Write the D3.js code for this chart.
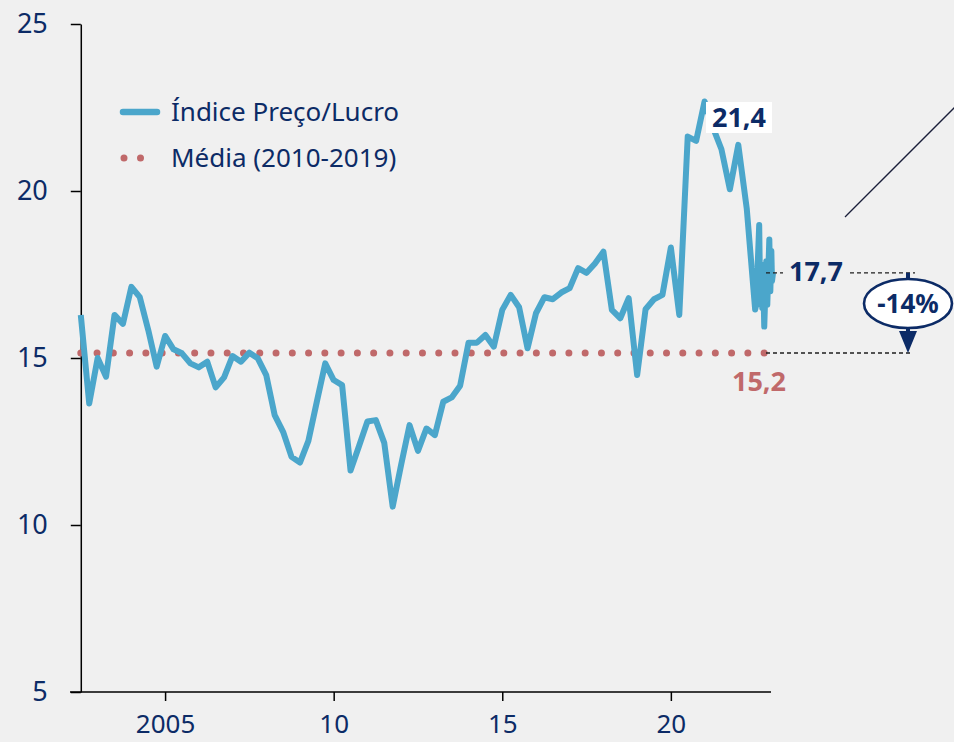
<!DOCTYPE html>
<html>
<head>
<meta charset="utf-8">
<script src="https://cdn.jsdelivr.net/npm/d3@7"></script>
<style>
  body { margin: 0; background: #f0f0f0; }
  svg { display: block; font-family: 'Noto Sans', sans-serif; }
  .axis path, .axis line { stroke: #000; stroke-width: 1.5; }
  .axis text { fill: #0c2b66; font-size: 27px; font-family: 'Noto Sans', sans-serif; }
  .x-axis text { font-size: 26px; }
</style>
</head>
<body>
<svg id="chart"></svg>
<script>
// Índice Preço/Lucro, quarterly from 2002 Q3 to 2022 Q3
const firstQuarter = 2002.5;
const quarterValues = [
  16.29, 13.64, 15.0, 14.44, 16.29, 16.02, 17.13, 16.82, 15.84, 14.74,
  15.66, 15.26, 15.14, 14.84, 14.72, 14.89, 14.12, 14.42, 15.06, 14.89,
  15.16, 14.99, 14.49, 13.29, 12.79, 12.04, 11.87, 12.52, 13.69, 14.84,
  14.34, 14.19, 11.63, 12.36, 13.1, 13.14, 12.46, 10.55, 11.8, 12.99,
  12.22, 12.89, 12.69, 13.69, 13.82, 14.17, 15.46, 15.46, 15.69, 15.34,
  16.44, 16.89, 16.52, 15.29, 16.34, 16.82, 16.76, 16.96, 17.09, 17.69,
  17.55, 17.83, 18.18, 16.44, 16.19, 16.79, 14.49, 16.46, 16.76, 16.89,
  18.31, 16.29, 21.63, 21.5, 22.68, 21.9, 21.25, 20.05, 21.38, 19.48,
  16.45
];
// higher frequency readings after mid 2022
const tailDates = [
  2022.55, 2022.58, 2022.62, 2022.65, 2022.68, 2022.71, 2022.74, 2022.77,
  2022.80, 2022.83, 2022.86, 2022.89, 2022.92, 2022.95, 2022.98, 2023.00, 2023.03
];
const tailValues = [
  16.7, 17.9, 18.98, 16.6, 17.8, 16.5, 17.3, 15.94,
  16.9, 17.9, 16.6, 17.6, 18.55, 17.0, 18.2, 17.3, 17.55
];
const meanValue = 15.15;
const meanStart = 2002.5;
const meanEnd = 2023.03;

const yTicks = [5, 10, 15, 20, 25];
const xTicks = [2005, 2010, 2015, 2020];
const xTickLabels = ['2005', '10', '15', '20'];
const legendLabels = ['Índice Preço/Lucro', 'Média (2010-2019)'];
const peakLabel = '21,4';
const lastLabel = '17,7';
const meanLabel = '15,2';
const changeLabel = '-14%';

class PeChart {

    constructor(_config, _data) {
        this.config = {
            parentElement: _config.parentElement,
            containerWidth: 954,
            containerHeight: 742
        }
        this.data = _data;
        this.initVis();
    }

    initVis() {
        let vis = this;

        vis.svg = d3.select(vis.config.parentElement)
            .attr('width', vis.config.containerWidth)
            .attr('height', vis.config.containerHeight);

        vis.svg.append('rect')
            .attr('width', vis.config.containerWidth)
            .attr('height', vis.config.containerHeight)
            .attr('fill', '#f0f0f0');

        // fixed domains
        vis.xScale = d3.scaleLinear()
            .domain([2002.18, 2022.97])
            .range([70, 771]);
        vis.yScale = d3.scaleLinear()
            .domain([5, 25])
            .range([692, 24]);

        vis.xAxis = d3.axisBottom(vis.xScale)
            .tickValues(xTicks)
            .tickFormat((d, i) => xTickLabels[i])
            .tickSize(9)
            .tickSizeOuter(0)
            .tickPadding(14);
        vis.yAxis = d3.axisLeft(vis.yScale)
            .tickValues(yTicks)
            .tickFormat(d3.format('d'))
            .tickSize(10)
            .tickSizeOuter(0)
            .tickPadding(23);

        vis.xAxisGroup = vis.svg.append('g')
            .attr('class', 'axis x-axis')
            .attr('transform', `translate(0,${vis.yScale(5)})`);
        vis.yAxisGroup = vis.svg.append('g')
            .attr('class', 'axis y-axis')
            .attr('transform', `translate(${vis.xScale(firstQuarter)},0)`);

        vis.chart = vis.svg.append('g');
    }

    renderVis() {
        let vis = this;
        const BLUE = '#4ba6cb';
        const RED = '#c0696a';
        const NAVY = '#0c2b66';

        vis.xAxisGroup.call(vis.xAxis)
            .call(g => g.select('.domain').attr('d', `M70,0H771`));
        vis.yAxisGroup.call(vis.yAxis);

        // average line as round dots
        vis.chart.append('line')
            .attr('x1', vis.xScale(meanStart))
            .attr('x2', vis.xScale(meanEnd))
            .attr('y1', vis.yScale(meanValue))
            .attr('y2', vis.yScale(meanValue))
            .attr('stroke', RED)
            .attr('stroke-width', 7)
            .attr('stroke-linecap', 'round')
            .attr('stroke-dasharray', '0 16.27');

        const line = d3.line()
            .x(d => vis.xScale(d.date))
            .y(d => vis.yScale(d.value));

        vis.chart.append('path')
            .datum(vis.data)
            .attr('d', line)
            .attr('fill', 'none')
            .attr('stroke', BLUE)
            .attr('stroke-width', 6)
            .attr('stroke-linejoin', 'round');

        // legend
        const legend = vis.svg.append('g');
        legend.append('line')
            .attr('x1', 123).attr('x2', 157)
            .attr('y1', 112).attr('y2', 112)
            .attr('stroke', BLUE)
            .attr('stroke-width', 6.5)
            .attr('stroke-linecap', 'round');
        legend.append('line')
            .attr('x1', 124).attr('x2', 141)
            .attr('y1', 158).attr('y2', 158)
            .attr('stroke', RED)
            .attr('stroke-width', 7)
            .attr('stroke-linecap', 'round')
            .attr('stroke-dasharray', '0 16.5');
        legend.selectAll('.legend-label')
            .data(legendLabels)
            .join('text')
            .attr('class', 'legend-label')
            .attr('x', 171)
            .attr('y', (d, i) => 112 + i * 46)
            .attr('dy', '0.35em')
            .attr('fill', NAVY)
            .attr('font-size', '26px')
            .text(d => d);

        const last = vis.data[vis.data.length - 1];
        const yLast = vis.yScale(last.value);
        const yMean = vis.yScale(meanValue);
        const arrowX = 908;

        // dashed leaders
        const notes = vis.svg.append('g');
        notes.selectAll('.leader')
            .data([[yLast, 915], [yMean, 912]])
            .join('line')
            .attr('class', 'leader')
            .attr('x1', 766)
            .attr('x2', d => d[1])
            .attr('y1', d => d[0])
            .attr('y2', d => d[0])
            .attr('stroke', '#1e1e1e')
            .attr('stroke-width', 1.3)
            .attr('stroke-dasharray', '4 3');

        // change arrow
        notes.append('line')
            .attr('x1', arrowX).attr('x2', arrowX)
            .attr('y1', yLast).attr('y2', yMean - 20)
            .attr('stroke', NAVY)
            .attr('stroke-width', 4);
        notes.append('path')
            .attr('d', `M${arrowX - 9},${yMean - 22}L${arrowX + 9},${yMean - 22}L${arrowX},${yMean}Z`)
            .attr('fill', NAVY);
        notes.append('ellipse')
            .attr('cx', arrowX).attr('cy', 303.5)
            .attr('rx', 44).attr('ry', 24.5)
            .attr('fill', '#fff')
            .attr('stroke', NAVY)
            .attr('stroke-width', 2.6);
        notes.append('text')
            .attr('x', arrowX).attr('y', 303.5)
            .attr('dy', '0.35em')
            .attr('text-anchor', 'middle')
            .attr('fill', NAVY)
            .attr('font-size', '26px')
            .attr('font-weight', 700)
            .text(changeLabel);

        // last value label, sits on the dashed leader
        notes.append('rect')
            .attr('x', 783).attr('y', yLast - 15)
            .attr('width', 65).attr('height', 30)
            .attr('fill', '#f0f0f0');
        notes.append('text')
            .attr('x', 816).attr('y', yLast - 1)
            .attr('dy', '0.35em')
            .attr('text-anchor', 'middle')
            .attr('fill', NAVY)
            .attr('font-size', '27px')
            .attr('font-weight', 700)
            .text(lastLabel);

        notes.append('text')
            .attr('x', 759).attr('y', yMean + 29)
            .attr('dy', '0.35em')
            .attr('text-anchor', 'middle')
            .attr('fill', RED)
            .attr('font-size', '27px')
            .attr('font-weight', 700)
            .text(meanLabel);

        // peak label on white box
        notes.append('rect')
            .attr('x', 706).attr('y', 102)
            .attr('width', 66).attr('height', 31)
            .attr('fill', '#fff');
        notes.append('text')
            .attr('x', 739).attr('y', 117.5)
            .attr('dy', '0.35em')
            .attr('text-anchor', 'middle')
            .attr('fill', NAVY)
            .attr('font-size', '27px')
            .attr('font-weight', 700)
            .text(peakLabel);

        // thin diagonal pointer leaving the frame
        notes.append('line')
            .attr('x1', 845).attr('y1', 217)
            .attr('x2', 962).attr('y2', 100)
            .attr('stroke', '#1a1f3a')
            .attr('stroke-width', 1.3);
    }
}

const series = quarterValues.map((v, i) => ({date: firstQuarter + i * 0.25, value: v}))
    .concat(tailDates.map((d, i) => ({date: d, value: tailValues[i]})));

const chart = new PeChart({parentElement: '#chart'}, series);
chart.renderVis();
</script>
</body>
</html>
